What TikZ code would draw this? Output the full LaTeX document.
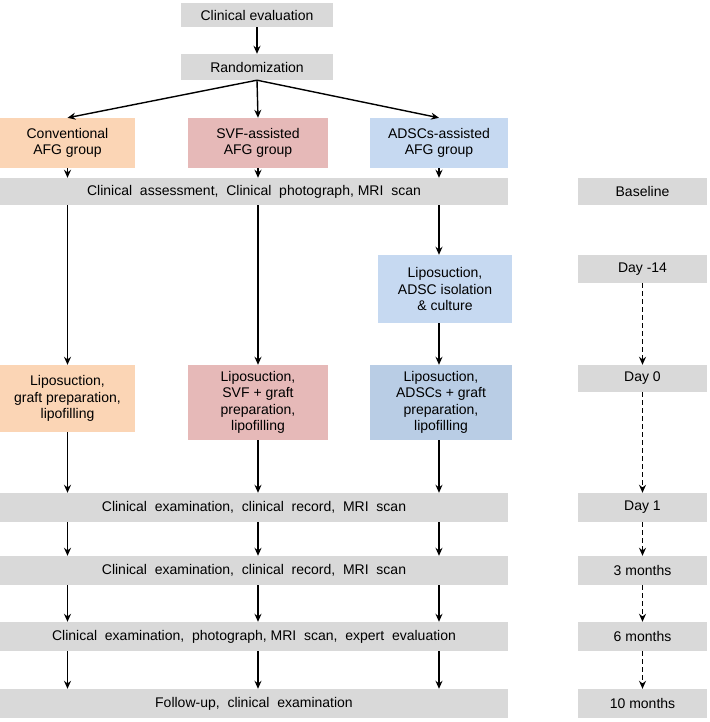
\documentclass[tikz,border=0pt]{standalone}
\usepackage{fontspec}
\setmainfont{Liberation Sans}
\usetikzlibrary{arrows.meta}
\definecolor{gr}{HTML}{D9D9D9}
\definecolor{orn}{HTML}{FBD5B5}
\definecolor{pnk}{HTML}{E6B9B8}
\definecolor{lbl}{HTML}{C6D9F1}
\definecolor{dbl}{HTML}{B9CDE5}
\begin{document}
\begin{tikzpicture}[x=1pt,y=-1pt,
  box/.style={draw=none,inner sep=0pt,align=center,font=\fontsize{14}{16.5}\selectfont},
  arr/.style={-{Stealth[length=8pt,width=7pt]},line width=1.4pt},
  darr/.style={arr,dash pattern=on 5pt off 3pt}]
\useasboundingbox (0,0) rectangle (709,722);
\node[box,fill=gr,minimum width=152pt,minimum height=24pt] (ce) at (257,15) {Clinical evaluation};
\node[box,fill=gr,minimum width=152pt,minimum height=26pt] (rd) at (257,67) {Randomization};
\node[box,fill=orn,minimum width=135pt,minimum height=50pt] (g1) at (67.5,143) {Conventional\\AFG group};
\node[box,fill=pnk,minimum width=140pt,minimum height=50pt] (g2) at (258,143) {SVF-assisted\\AFG group};
\node[box,fill=lbl,minimum width=138pt,minimum height=50pt] (g3) at (439,143) {ADSCs-assisted\\AFG group};
\node[box,fill=gr,minimum width=508pt,minimum height=27pt] (b0) at (254,191.5) {Clinical \ assessment, \ Clinical \ photograph, MRI \ scan};
\node[box,fill=lbl,minimum width=134pt,minimum height=68pt] (iso) at (445,289) {Liposuction,\\ADSC isolation\\\& culture};
\node[box,fill=orn,minimum width=135pt,minimum height=67pt] (p1) at (67.5,398.5) {Liposuction,\\graft preparation,\\lipofilling};
\node[box,fill=pnk,minimum width=140pt,minimum height=75pt] (p2) at (258,402.5) {Liposuction,\\SVF + graft\\preparation,\\lipofilling};
\node[box,fill=dbl,minimum width=142pt,minimum height=75pt] (p3) at (441,402.5) {Liposuction,\\ADSCs + graft\\preparation,\\lipofilling};
\node[box,fill=gr,minimum width=508pt,minimum height=29pt] (b1) at (254,507.5) {Clinical \ examination, \ clinical \ record, \ MRI \ scan};
\node[box,fill=gr,minimum width=508pt,minimum height=29pt] (b2) at (254,570.5) {Clinical \ examination, \ clinical \ record, \ MRI \ scan};
\node[box,fill=gr,minimum width=508pt,minimum height=29pt] (b3) at (254,636.5) {Clinical \ examination, \ photograph, MRI \ scan, \ expert \ evaluation};
\node[box,fill=gr,minimum width=508pt,minimum height=29pt] (b4) at (254,703.5) {Follow-up, \ clinical \ examination};
\node[box,fill=gr,minimum width=129pt,minimum height=27pt] (t0) at (642.5,191.5) {Baseline};
\node[box,fill=gr,minimum width=129pt,minimum height=28pt] (t1) at (642.5,269) {Day -14};
\node[box,fill=gr,minimum width=129pt,minimum height=27pt] (t2) at (642.5,378.5) {Day 0};
\node[box,fill=gr,minimum width=129pt,minimum height=29pt] (t3) at (642.5,507.5) {Day 1};
\node[box,fill=gr,minimum width=129pt,minimum height=29pt] (t4) at (642.5,570.5) {3 months};
\node[box,fill=gr,minimum width=129pt,minimum height=29pt] (t5) at (642.5,636.5) {6 months};
\node[box,fill=gr,minimum width=129pt,minimum height=29pt] (t6) at (642.5,703.5) {10 months};
\draw[arr] (ce) -- (rd);
\draw[arr] (rd.south) -- (g1.north);
\draw[arr] (rd.south) -- (g2.north);
\draw[arr] (rd.south) -- (g3.north);
\foreach \g in {g1,g2,g3} \draw[arr] (\g.south) -- (\g.south |- b0.north);
\draw[arr] (p1.north |- b0.south) -- (p1.north);
\draw[arr] (g2.south |- b0.south) -- (p2.north);
\draw[arr] (g3.south |- b0.south) -- (iso.north -| g3.south);
\draw[arr] (iso.south -| g3.south) -- (p3.north -| g3.south);
\draw[arr] (p1.south) -- (p1.south |- b1.north);
\draw[arr] (p2.south) -- (p2.south |- b1.north);
\draw[arr] (p3.south -| g3.south) -- (g3.south |- b1.north);
\foreach \a/\b in {b1/b2,b2/b3,b3/b4}{
  \draw[arr] (g1.south |- \a.south) -- (g1.south |- \b.north);
  \draw[arr] (g2.south |- \a.south) -- (g2.south |- \b.north);
  \draw[arr] (g3.south |- \a.south) -- (g3.south |- \b.north);}
\foreach \a/\b in {t1/t2,t2/t3,t3/t4,t4/t5,t5/t6} \draw[darr] (\a) -- (\b);
\end{tikzpicture}
\end{document}
